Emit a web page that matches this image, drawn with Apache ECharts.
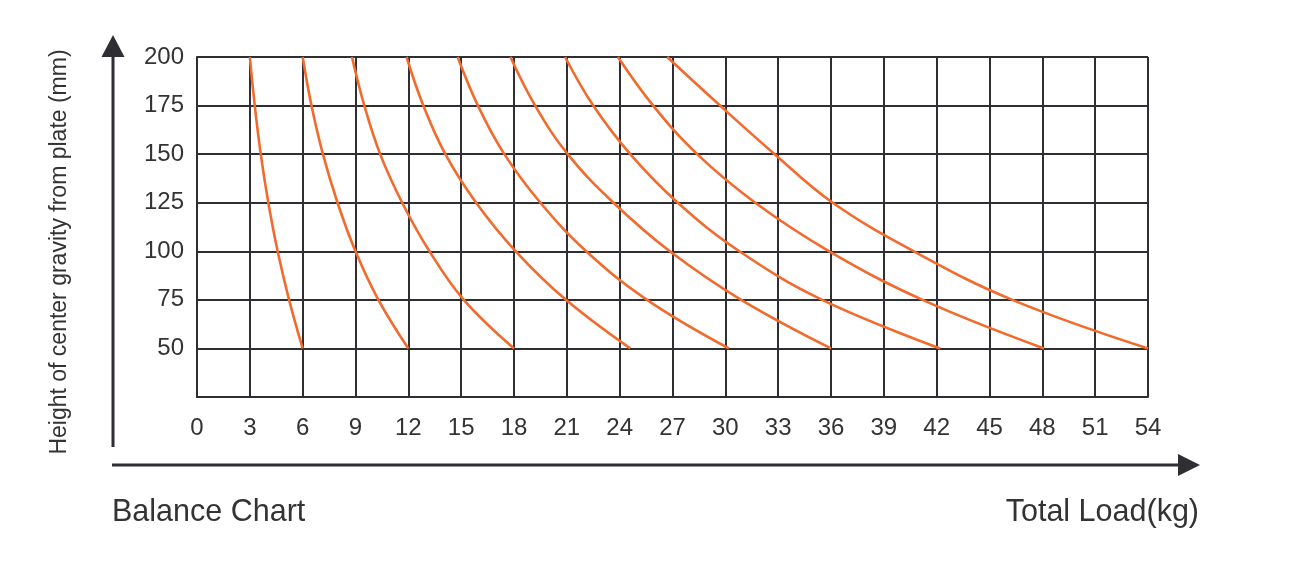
<!DOCTYPE html>
<html>
<head>
<meta charset="utf-8">
<script src="https://cdn.jsdelivr.net/npm/echarts@6/dist/echarts.min.js"></script>
<style>
html,body{margin:0;padding:0;background:#fff;}
#chart{width:1293px;height:587px;}
</style>
</head>
<body>
<div id="chart"></div>
<script>
// Heights (mm) at which each curve was read
const heights = [200, 175, 150, 125, 100, 75, 50];
// Total load (kg) of each curve at those heights
const curve1 = [3.0, 3.28, 3.62, 4.05, 4.58, 5.23, 6.0];
const curve2 = [6.0, 6.5, 7.15, 7.98, 9.0, 10.3, 12.0];
const curve3 = [8.8, 9.5, 10.4, 11.65, 13.2, 15.15, 18.0];
const curve4 = [11.9, 12.85, 14.1, 15.85, 18.1, 20.95, 24.6];
const curve5 = [14.8, 15.95, 17.45, 19.5, 22.1, 25.55, 30.2];
const curve6 = [17.8, 19.2, 21.05, 23.65, 26.85, 30.9, 36.0];
const curve7 = [20.9, 22.5, 24.6, 27.3, 30.8, 35.5, 42.2];
const curve8 = [23.9, 25.9, 28.4, 31.7, 35.9, 41.2, 48.1];
const curve9 = [26.7, 29.7, 32.8, 36.1, 40.7, 46.3, 54.0];
const curves = [curve1, curve2, curve3, curve4, curve5, curve6, curve7, curve8, curve9];

const yTitle = 'Height of center gravity from plate (mm)';
const chartTitle = 'Balance Chart';
const xTitle = 'Total Load(kg)';

const gridColor = '#2e2e33';
const textColor = '#333333';
const curveColor = '#f26a2c';
const font = '"Liberation Sans", Arial, sans-serif';

const chart = echarts.init(document.getElementById('chart'), null, {renderer: 'canvas'});

const series = curves.map((c) => ({
  type: 'line',
  data: c.map((x, i) => [x, heights[i]]),
  smooth: 0.4,
  showSymbol: false,
  symbol: 'none',
  lineStyle: {color: curveColor, width: 2.6},
  silent: true,
  z: 5
}));

chart.setOption({
  animation: false,
  backgroundColor: '#ffffff',
  grid: {left: 197, right: 145, top: 57, bottom: 190, containLabel: false},
  xAxis: {
    type: 'value', min: 0, max: 54, interval: 3,
    axisLine: {show: true, lineStyle: {color: gridColor, width: 2}},
    axisTick: {show: false},
    splitLine: {show: true, lineStyle: {color: gridColor, width: 2}},
    axisLabel: {color: textColor, fontSize: 24, fontFamily: font, margin: 19}
  },
  yAxis: {
    type: 'value', min: 25, max: 200, interval: 25,
    axisLine: {show: true, lineStyle: {color: gridColor, width: 2}},
    axisTick: {show: false},
    splitLine: {show: true, lineStyle: {color: gridColor, width: 2}},
    axisLabel: {
      color: textColor, fontSize: 24, fontFamily: font, margin: 13,
      formatter: (v) => (v === 25 ? '' : String(v))
    }
  },
  graphic: [
    {type: 'line', shape: {x1: 113, y1: 447, x2: 113, y2: 52}, style: {stroke: gridColor, lineWidth: 3}},
    {type: 'polygon', shape: {points: [[113, 35], [101.5, 57], [124.5, 57]]}, style: {fill: gridColor}},
    {type: 'line', shape: {x1: 112, y1: 465, x2: 1182, y2: 465}, style: {stroke: gridColor, lineWidth: 3}},
    {type: 'polygon', shape: {points: [[1200, 465], [1178, 454], [1178, 476]]}, style: {fill: gridColor}},
    {type: 'text', x: 60, y: 252, rotation: Math.PI / 2,
      style: {text: yTitle, fill: textColor, font: '23px ' + font, textAlign: 'center', textVerticalAlign: 'middle'}},
    {type: 'text', x: 112, y: 513,
      style: {text: chartTitle, fill: textColor, font: '30.5px ' + font, textAlign: 'left', textVerticalAlign: 'middle'}},
    {type: 'text', x: 1199, y: 513,
      style: {text: xTitle, fill: textColor, font: '30.5px ' + font, textAlign: 'right', textVerticalAlign: 'middle'}}
  ],
  series: series
});
</script>
</body>
</html>
